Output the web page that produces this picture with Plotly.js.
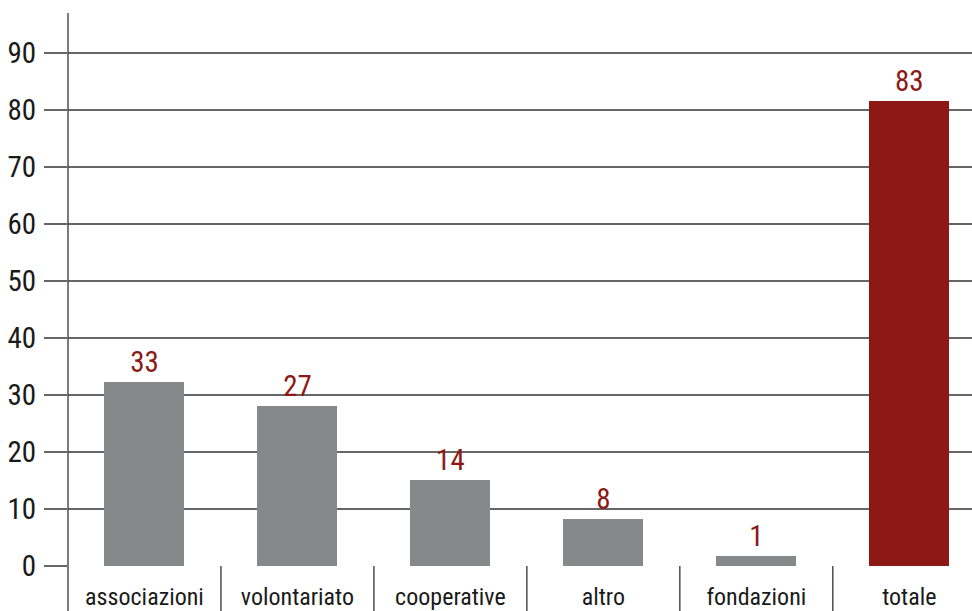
<!DOCTYPE html>
<html>
<head>
<meta charset="utf-8">
<script src="https://cdn.plot.ly/plotly-3.0.1.min.js"></script>
<style>html,body{margin:0;padding:0;background:#fff;}#chart{width:972px;height:611px;}</style>
</head>
<body>
<div id="chart"></div>
<script>
const categories = ["associazioni", "volontariato", "cooperative", "altro", "fondazioni", "totale"];
const barHeights = [32.2, 28.0, 15.0, 8.2, 1.75, 81.6];
const barLabels = ["33", "27", "14", "8", "1", "83"];
const barColors = ["#87888a", "#87888a", "#87888a", "#87888a", "#87888a", "#8c1915"];
const yTicks = [0, 10, 20, 30, 40, 50, 60, 70, 80, 90];

const FONT = "'Roboto Condensed', 'Liberation Sans', sans-serif";

const trace = {
  type: 'bar',
  x: categories.map((c, i) => i),
  y: barHeights,
  text: barLabels,
  texttemplate: '%{text}',
  textposition: 'outside',
  cliponaxis: false,
  textfont: {family: FONT, size: 29, color: '#8c1915'},
  marker: {color: barColors, line: {width: 0}},
  width: 0.523,
  hoverinfo: 'none'
};

const shapes = [];
// y axis line extended below zero
shapes.push({type: 'line', xref: 'paper', yref: 'paper', x0: 0, x1: 0, y0: -0.09, y1: 1, line: {color: '#333', width: 1.3}});
// category separators below zero line
for (let i = 0; i < categories.length - 1; i++) {
  shapes.push({type: 'line', xref: 'x', yref: 'paper', x0: i + 0.5, x1: i + 0.5, y0: -0.09, y1: 0, line: {color: '#333', width: 1.3}});
}

const layout = {
  width: 972, height: 611,
  margin: {l: 68, r: 0, t: 13, b: 45},
  paper_bgcolor: '#fff', plot_bgcolor: '#fff',
  showlegend: false,
  bargap: 0,
  xaxis: {
    range: [-0.5, 5.41],
    tickvals: categories.map((c, i) => i),
    ticktext: categories,
    tickfont: {family: FONT, size: 24, color: '#1a1a1a'},
    ticks: '', showgrid: false, zeroline: false, showline: false,
    ticklabelstandoff: 14,
    fixedrange: true
  },
  yaxis: {
    range: [0, 97],
    tickvals: yTicks,
    ticktext: yTicks.map(String),
    tickfont: {family: FONT, size: 29, color: '#1a1a1a'},
    ticks: 'outside', ticklen: 23, tickcolor: '#666', tickwidth: 1.6,
    ticklabelstandoff: 2,
    showgrid: true, gridcolor: '#666', gridwidth: 1.6,
    zeroline: false, showline: false,
    fixedrange: true
  },
  shapes: shapes
};

Plotly.newPlot('chart', [trace], layout, {displayModeBar: false, staticPlot: true});
</script>
</body>
</html>
